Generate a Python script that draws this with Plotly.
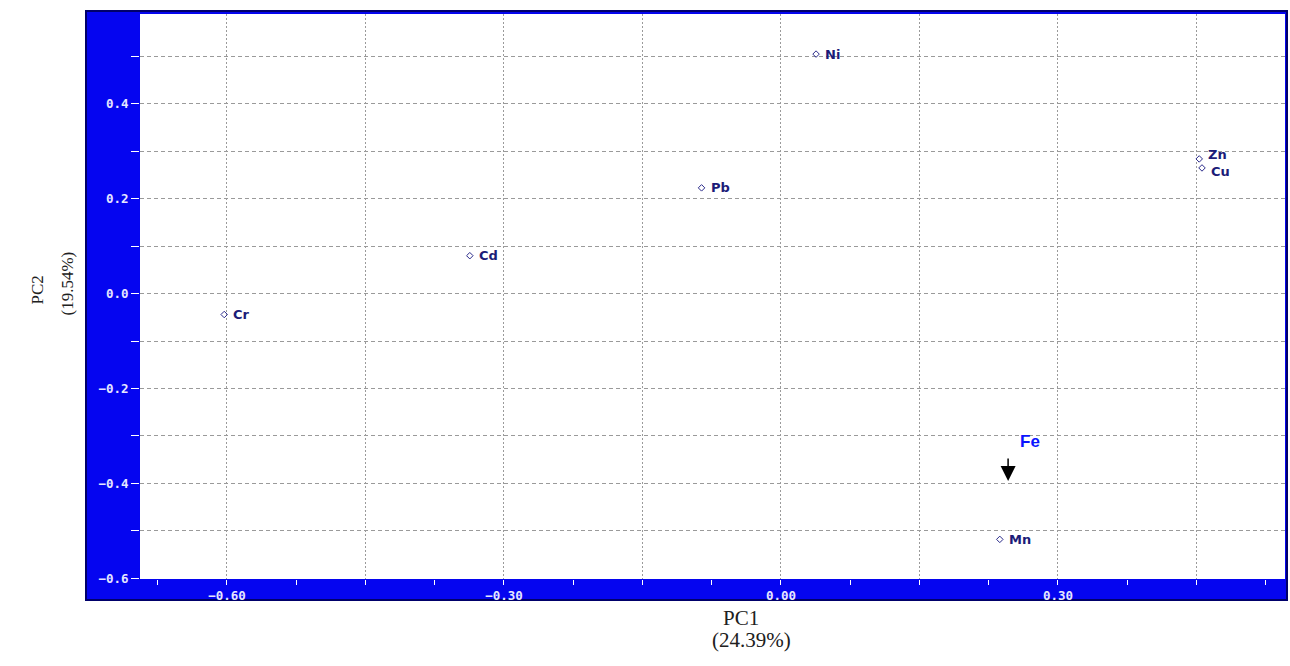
import plotly.graph_objects as go

# Loadings of each element on the first two principal components
elements = ["Ni", "Zn", "Cu", "Pb", "Cd", "Cr", "Mn"]
pc1 = [0.038, 0.453, 0.456, -0.086, -0.337, -0.603, 0.237]
pc2 = [0.505, 0.284, 0.265, 0.223, 0.080, -0.044, -0.518]

# Axis tick positions and labels
x_tickvals = [-0.60, -0.45, -0.30, -0.15, 0.00, 0.15, 0.30, 0.45]
x_ticktext = ["\u22120.60", "", "\u22120.30", "", "0.00", "", "0.30", ""]
y_tickvals = [-0.6, -0.4, -0.2, 0.0, 0.2, 0.4]
y_ticktext = ["\u22120.6", "\u22120.4", "\u22120.2", "0.0", "0.2", "0.4"]

# Marked element (arrow pointer)
fe_label = "Fe"
fe_text_pos = (0.270, -0.311)
fe_arrow_tip = (0.246, -0.395)

W, H = 1290, 666
L, R, T, B = 140, 5, 14, 87
pw, ph = W - L - R, H - T - B

BLUE = "#0505f0"
NAVY = "#00006a"
TICK_FONT = dict(family="DejaVu Sans Mono", size=12.5, color="#e6e6ff", weight="bold")
POINT_FONT = dict(family="DejaVu Sans", size=13, color="#1c1c78", weight="bold")

fig = go.Figure()
fig.add_trace(go.Scatter(
    x=pc1, y=pc2, mode="markers",
    marker=dict(symbol="diamond-open", size=5, color="#2a2a8a",
                line=dict(width=1, color="#2a2a8a")),
    hoverinfo="skip", showlegend=False,
))

# Element labels to the right of each marker; the close Zn/Cu pair is spread apart
label_yshift = {"Zn": 4, "Cu": -4}
for name, xv, yv in zip(elements, pc1, pc2):
    fig.add_annotation(x=xv, y=yv, text=name, showarrow=False,
                       xanchor="left", yanchor="middle", xshift=7,
                       yshift=label_yshift.get(name, 0), font=POINT_FONT)

# Blue frame around the plotting area, then the white interior
fig.add_shape(type="rect", xref="paper", yref="paper", layer="below",
              x0=(86 - L) / pw, x1=(1287 - L) / pw,
              y0=-(600 - (H - B)) / ph, y1=1 + 3 / ph,
              fillcolor=BLUE, line=dict(color=NAVY, width=2))
fig.add_shape(type="rect", xref="paper", yref="paper", layer="below",
              x0=0, x1=1, y0=0, y1=1, fillcolor="white", line=dict(width=0))

fig.add_annotation(x=fe_text_pos[0], y=fe_text_pos[1], text=fe_label,
                   showarrow=False,
                   font=dict(family="Liberation Sans", size=17, color="#0a14ff",
                             weight="bold"))
fig.add_annotation(x=fe_arrow_tip[0], y=fe_arrow_tip[1], text="",
                   showarrow=True, ax=0, ay=-24, arrowhead=2, arrowsize=2,
                   arrowwidth=1.5, arrowcolor="black")

# Axis titles
title_font = dict(family="Liberation Serif", size=21, color="#202020")
fig.add_annotation(xref="paper", yref="paper", x=(741 - L) / pw, y=-(632 - (H - B)) / ph,
                   text="PC1", showarrow=False, font=title_font)
fig.add_annotation(xref="paper", yref="paper", x=(751 - L) / pw, y=-(654 - (H - B)) / ph,
                   text="(24.39%)", showarrow=False, font=title_font)
ytitle_font = dict(family="Liberation Serif", size=17, color="#202020")
fig.add_annotation(xref="paper", yref="paper", x=-(L - 25) / pw, y=((H - B) - 290) / ph,
                   text="PC2", showarrow=False, textangle=-90, font=ytitle_font)
fig.add_annotation(xref="paper", yref="paper", x=-(L - 55) / pw, y=((H - B) - 283) / ph,
                   text="(19.54%)", showarrow=False, textangle=-90, font=ytitle_font)

fig.update_layout(
    width=W, height=H,
    margin=dict(l=L, r=R, t=T, b=B),
    paper_bgcolor="white", plot_bgcolor="white",
    xaxis=dict(
        range=[-0.6942, 0.5459], tickmode="array",
        tickvals=x_tickvals, ticktext=x_ticktext,
        ticks="outside", ticklen=5, tickcolor="white", tickwidth=1,
        tickfont=TICK_FONT, zeroline=False, showline=False,
        showgrid=True, gridcolor="#9a9a9a", gridwidth=1, griddash="2px,2px",
        minor=dict(dtick=0.075, tick0=0, ticks="outside", ticklen=5,
                   tickcolor="white", showgrid=False),
    ),
    yaxis=dict(
        range=[-0.6015, 0.5895], tickmode="array",
        tickvals=y_tickvals, ticktext=y_ticktext,
        ticks="outside", ticklen=8, tickcolor="white", tickwidth=1,
        tickfont=TICK_FONT, zeroline=False, showline=False,
        showgrid=True, gridcolor="#9a9a9a", gridwidth=1, griddash="4px,3px",
        minor=dict(dtick=0.1, tick0=0, ticks="outside", ticklen=8,
                   tickcolor="white", showgrid=True, gridcolor="#9a9a9a",
                   gridwidth=1, griddash="4px,3px"),
    ),
)

fig.write_html("out.html")
